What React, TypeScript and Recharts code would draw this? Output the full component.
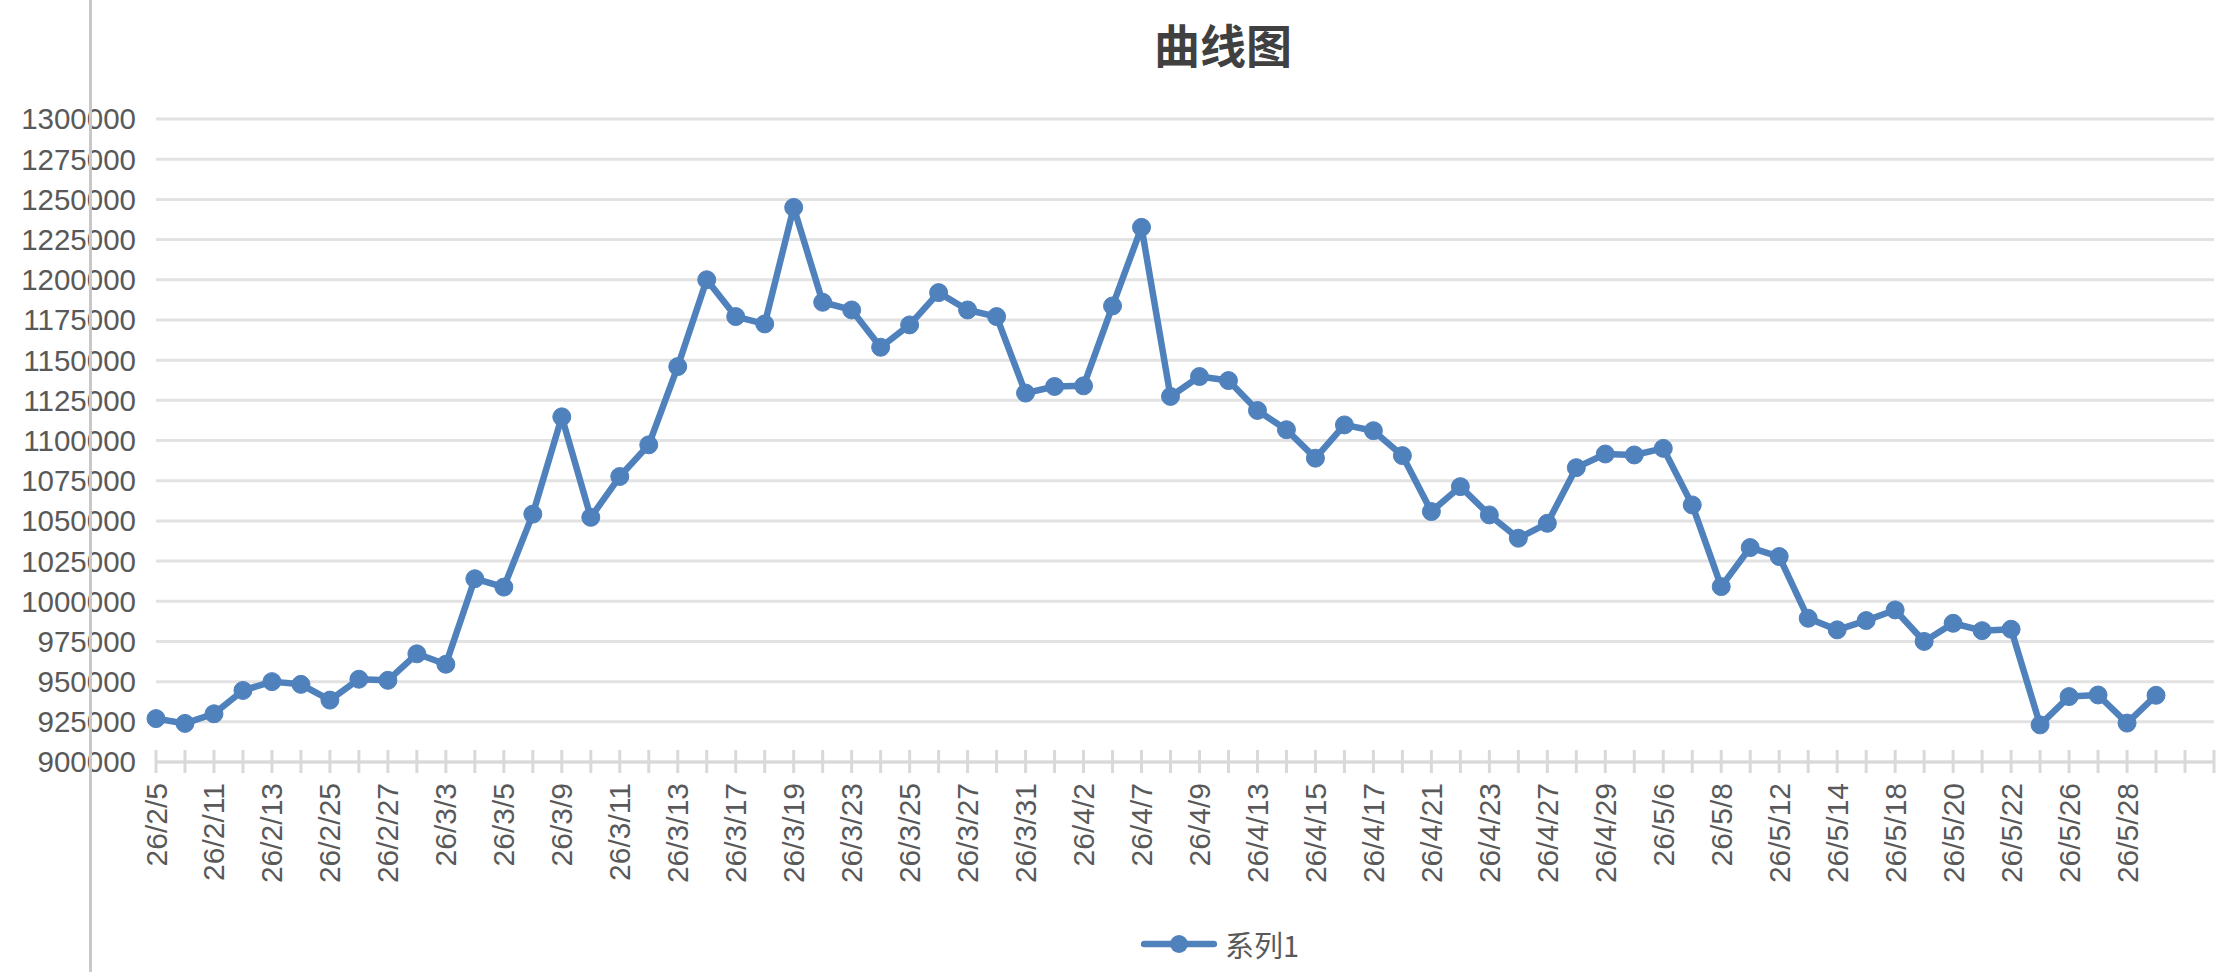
import React from 'react';
import { LineChart, Line, XAxis, YAxis, CartesianGrid, Legend } from 'recharts';

const dates: string[] = [
  '26/2/5', '26/2/10', '26/2/11', '26/2/12', '26/2/13', '26/2/24', '26/2/25', '26/2/26', '26/2/27', '26/3/2',
  '26/3/3', '26/3/4', '26/3/5', '26/3/6', '26/3/9', '26/3/10', '26/3/11', '26/3/12', '26/3/13', '26/3/16',
  '26/3/17', '26/3/18', '26/3/19', '26/3/20', '26/3/23', '26/3/24', '26/3/25', '26/3/26', '26/3/27', '26/3/30',
  '26/3/31', '26/4/1', '26/4/2', '26/4/3', '26/4/7', '26/4/8', '26/4/9', '26/4/10', '26/4/13', '26/4/14',
  '26/4/15', '26/4/16', '26/4/17', '26/4/20', '26/4/21', '26/4/22', '26/4/23', '26/4/24', '26/4/27', '26/4/28',
  '26/4/29', '26/4/30', '26/5/6', '26/5/7', '26/5/8', '26/5/11', '26/5/12', '26/5/13', '26/5/14', '26/5/15',
  '26/5/18', '26/5/19', '26/5/20', '26/5/21', '26/5/22', '26/5/25', '26/5/26', '26/5/27', '26/5/28', '26/5/29',
  '', '',
];

const series1: (number | null)[] = [
  927000, 924000, 930000, 944500, 950000, 948300, 938500, 951500, 950800, 967300,
  960800, 1014000, 1008800, 1054200, 1114700, 1052200, 1077600, 1097300, 1146000, 1200000,
  1177100, 1172500, 1245000, 1186000, 1181200, 1158000, 1171900, 1192000, 1181200, 1177100,
  1129500, 1133600, 1134000, 1183700, 1232600, 1127400, 1139800, 1137300, 1118700, 1106700,
  1089000, 1109700, 1106100, 1090600, 1055800, 1071300, 1053700, 1039200, 1048500, 1083100,
  1091600, 1091000, 1095100, 1059900, 1009100, 1033400, 1027800, 989400, 982200, 988000,
  994600, 975000, 986300, 981700, 982600, 923100, 940700, 941700, 924200, 941500,
  null, null,
];

const yTicks: number[] = [
  900000, 925000, 950000, 975000, 1000000, 1025000, 1050000, 1075000, 1100000,
  1125000, 1150000, 1175000, 1200000, 1225000, 1250000, 1275000, 1300000,
];

const title = '曲线图';
const seriesName = '系列1';

const data = dates.map((d, i) => ({ date: d, v: series1[i] }));

const BLUE = '#4f81bd';
const TEXT = '#595959';

const XTick = (props: any) => {
  const { x, y, index, payload } = props;
  const showLabel = index % 2 === 0 && payload && payload.value;
  return (
    <g>
      <line x1={x} x2={x} y1={y - 12} y2={y + 11} stroke="#d9d9d9" strokeWidth={3} />
      {showLabel ? (
        <text
          transform={`translate(${x},${y + 21}) rotate(-90)`}
          textAnchor="end"
          dominantBaseline="central"
          fontSize={30}
          fill={TEXT}
          fontFamily="'Liberation Sans', Arial, sans-serif"
        >
          {payload.value}
        </text>
      ) : null}
    </g>
  );
};

const LegendContent = () => (
  <div style={{ display: 'flex', alignItems: 'center', height: 40 }}>
    <svg width={76} height={24} style={{ display: 'block' }}>
      <line x1={3} x2={73} y1={12} y2={12} stroke={BLUE} strokeWidth={6.5} strokeLinecap="round" />
      <circle cx={38} cy={12} r={9} fill={BLUE} />
    </svg>
    <span
      style={{
        marginLeft: 8,
        fontSize: 29,
        color: TEXT,
        fontFamily: "'Noto Sans CJK SC', 'Liberation Sans', sans-serif",
        lineHeight: '40px',
      }}
    >
      {seriesName}
    </span>
  </div>
);

export default function App() {
  return (
    <div
      style={{
        position: 'absolute',
        left: 0,
        top: 0,
        width: 2228,
        height: 972,
        background: '#ffffff',
        overflow: 'hidden',
        fontFamily: "'Liberation Sans', Arial, sans-serif",
      }}
    >
      <div
        style={{
          position: 'absolute',
          left: 1123,
          top: 19,
          width: 200,
          textAlign: 'center',
          fontSize: 46,
          lineHeight: '48px',
          fontWeight: 'bold',
          color: '#404040',
          fontFamily: "'Noto Sans CJK SC', sans-serif",
        }}
      >
        {title}
      </div>
      <LineChart
        width={2228}
        height={972}
        data={data}
        margin={{ top: 119, right: 14, left: 0, bottom: 10 }}
      >
        <CartesianGrid horizontal vertical={false} stroke="#e2e2e2" strokeWidth={3} />
        <XAxis
          dataKey="date"
          interval={0}
          height={200}
          tickSize={0}
          tickMargin={0}
          tickLine={false}
          axisLine={{ stroke: '#d9d9d9', strokeWidth: 3 }}
          tick={<XTick />}
          padding={{ left: 0, right: 0 }}
        />
        <YAxis
          width={156}
          domain={[900000, 1300000]}
          ticks={yTicks}
          interval={0}
          allowDataOverflow
          tickSize={0}
          tickMargin={20}
          tickLine={false}
          axisLine={false}
          tick={{ fill: TEXT, fontSize: 29.5, fontFamily: "'Liberation Sans', Arial, sans-serif" }}
        />
        <Legend
          verticalAlign="middle"
          align="center"
          layout="horizontal"
          content={<LegendContent />}
          wrapperStyle={{ left: 1141, top: 924, width: 220, height: 40 }}
        />
        <Line
          type="linear"
          dataKey="v"
          name={seriesName}
          stroke={BLUE}
          strokeWidth={6.5}
          strokeLinejoin="round"
          dot={{ r: 9, fill: BLUE, stroke: BLUE, strokeWidth: 1 }}
          activeDot={false}
          isAnimationActive={false}
          connectNulls={false}
        />
      </LineChart>
      <div
        style={{
          position: 'absolute',
          left: 89,
          top: 0,
          width: 3,
          height: 972,
          background: '#c8c8c8',
        }}
      />
    </div>
  );
}
